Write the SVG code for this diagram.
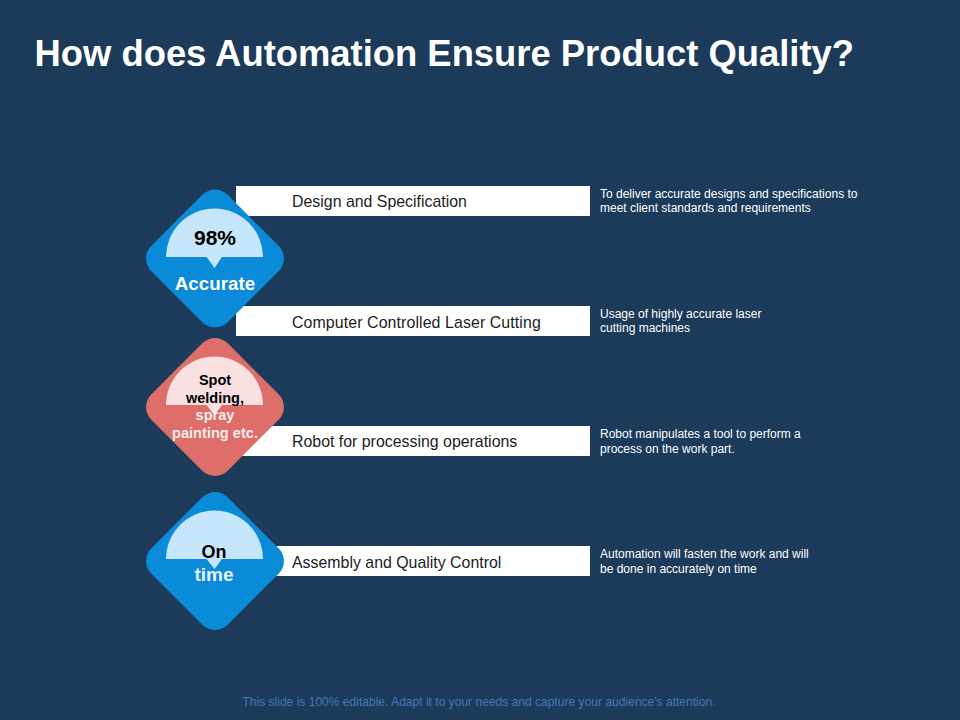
<svg xmlns="http://www.w3.org/2000/svg" width="960" height="720" viewBox="0 0 960 720">
<style>
text{font-family:"Liberation Sans",Arial,sans-serif}
.bar{fill:#fff}
.l{font-size:15.9px;fill:#1c1c1c}
.d{font-size:12px;fill:#fff}
.b{font-weight:bold}
.m{text-anchor:middle}
.w{fill:#fff}
.blue{fill:#0b8ad8}
.red{fill:#de6e6a}
.pb{fill:#c5e6fb}
.pr{fill:#f8e1e0}
</style>
<rect width="960" height="720" fill="#1c3a5a"/>
<text x="34.5" y="66" font-size="36.4" font-weight="bold" fill="#fff">How does Automation Ensure Product Quality?</text>
<g id="row1"><rect class="bar" x="236" y="186" width="354" height="30"/><text class="l" x="292" y="207">Design and Specification</text><text class="d" x="600" y="198">To deliver accurate designs and specifications to</text><text class="d" x="600" y="212">meet client standards and requirements</text></g>
<g id="row2"><rect class="bar" x="236" y="306" width="354" height="30"/><text class="l" x="292" y="328" letter-spacing=".1">Computer Controlled Laser Cutting</text><text class="d" x="600" y="318">Usage of highly accurate laser</text><text class="d" x="600" y="332">cutting machines</text></g>
<g id="row3"><rect class="bar" x="236" y="426" width="354" height="30"/><text class="l" x="292" y="447">Robot for processing operations</text><text class="d" x="600" y="438">Robot manipulates a tool to perform a</text><text class="d" x="600" y="453">process on the work part.</text></g>
<g id="row4"><rect class="bar" x="236" y="546" width="354" height="30"/><text class="l" x="292" y="568">Assembly and Quality Control</text><text class="d" x="600" y="558">Automation will fasten the work and will</text><text class="d" x="600" y="573">be done in accurately on time</text></g>
<g id="node1"><rect class="blue" x="161" y="204.5" width="108" height="108" rx="18" transform="rotate(45 215 258.5)"/><path class="pb" d="M166 257a48.500 48.500 0 0 1 97 0h-41l-7.500 11-8-11z"/><text class="b m" x="215" y="245" font-size="21">98%</text><text class="b m w" x="215" y="290" font-size="18.800">Accurate</text></g>
<g id="node2"><rect class="red" x="161" y="353" width="108" height="108" rx="18" transform="rotate(45 215 407)"/><path class="pr" d="M166 405a48.500 48.500 0 0 1 97 0h-41l-7.500 10-8-10z"/><text class="b m" font-size="14.500"><tspan x="215" y="385">Spot</tspan><tspan x="215" y="403">welding,</tspan></text><text class="b m w" font-size="14.600" fill-opacity=".9"><tspan x="215" y="420">spray</tspan><tspan x="215" y="438">painting etc.</tspan></text></g>
<g id="node3"><rect class="blue" x="161" y="507" width="108" height="108" rx="18" transform="rotate(45 215 561)"/><path class="pb" d="M166 559a48.500 48.500 0 0 1 97 0h-41l-7.500 10-8-10z"/><text class="b m" x="214" y="558" font-size="18">On</text><text class="b m" x="214" y="581" font-size="19" fill="#e4f4fe">time</text></g>
<g id="connectors"></g>
<text x="479" y="706" font-size="12.050" fill="#4079b8" text-anchor="middle">This slide is 100% editable. Adapt it to your needs and capture your audience's attention.</text>
</svg>
